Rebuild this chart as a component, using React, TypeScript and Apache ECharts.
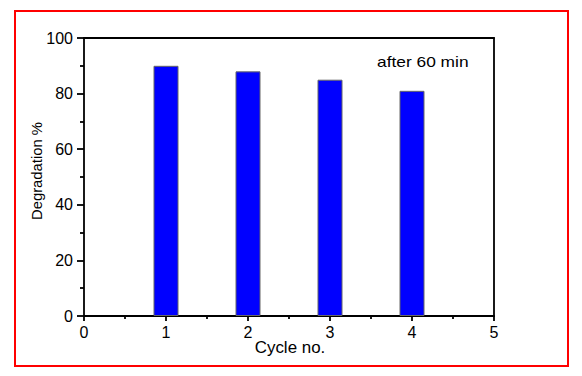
import React, { useEffect, useRef } from "react";
import * as echarts from "echarts";

const cycles = [1, 2, 3, 4];
const degradation = [90, 88, 85, 81];
const xTicks = [0, 1, 2, 3, 4, 5];
const yTicks = [0, 20, 40, 60, 80, 100];

export default function App() {
  const ref = useRef<HTMLDivElement>(null);
  useEffect(() => {
    document.body.style.margin = "0";
    const chart = echarts.init(ref.current!, null, { renderer: "svg" });
    const font = "Liberation Sans, Arial, sans-serif";
    const line = { color: "#000", width: 1.8 };
    chart.setOption({
      animation: false,
      backgroundColor: "#fff",
      grid: { left: 84, top: 38, right: 88, bottom: 60, containLabel: false },
      xAxis: [
        {
          type: "value",
          min: xTicks[0],
          max: xTicks[xTicks.length - 1],
          interval: 1,
          axisLine: { show: true, onZero: false, lineStyle: line },
          axisTick: { show: true, inside: false, length: 5, lineStyle: line },
          minorTick: { show: true, splitNumber: 2, length: 3, lineStyle: line },
          splitLine: { show: false },
          axisLabel: { color: "#000", fontSize: 16, fontFamily: font, margin: 8 },
        },
        {
          type: "value",
          position: "top",
          min: 0,
          max: 5,
          axisLine: { show: true, onZero: false, lineStyle: line },
          axisTick: { show: false },
          axisLabel: { show: false },
          splitLine: { show: false },
        },
      ],
      yAxis: [
        {
          type: "value",
          min: yTicks[0],
          max: yTicks[yTicks.length - 1],
          interval: 20,
          axisLine: { show: true, onZero: false, lineStyle: line },
          axisTick: { show: true, inside: false, length: 7, lineStyle: line },
          minorTick: { show: true, splitNumber: 2, length: 4, lineStyle: line },
          splitLine: { show: false },
          axisLabel: { color: "#000", fontSize: 16, fontFamily: font, margin: 11 },
        },
        {
          type: "value",
          position: "right",
          min: 0,
          max: 100,
          axisLine: { show: true, onZero: false, lineStyle: line },
          axisTick: { show: false },
          axisLabel: { show: false },
          splitLine: { show: false },
        },
      ],
      series: [
        {
          type: "bar",
          xAxisIndex: 0,
          yAxisIndex: 0,
          barWidth: 25,
          data: cycles.map((c, i) => [c, degradation[i]]),
          itemStyle: { color: "#0000ff", borderColor: "#666", borderWidth: 1 },
        },
      ],
      graphic: [
        {
          type: "rect",
          shape: { x: 15, y: 11, width: 553, height: 355 },
          style: { fill: "none", stroke: "#ff0000", lineWidth: 2 },
        },
        {
          type: "text",
          x: 37,
          y: 171,
          rotation: Math.PI / 2,
          scaleX: 1.06,
          style: {
            text: "Degradation %",
            fill: "#000",
            font: `14px ${font}`,
            align: "center",
            verticalAlign: "middle",
          },
        },
        {
          type: "text",
          x: 290,
          y: 347,
          scaleX: 1.06,
          style: {
            text: "Cycle no.",
            fill: "#000",
            font: `16px ${font}`,
            align: "center",
            verticalAlign: "middle",
          },
        },
        {
          type: "text",
          x: 377,
          y: 62,
          scaleX: 1.24,
          style: {
            text: "after 60 min",
            fill: "#000",
            font: `14px ${font}`,
            align: "left",
            verticalAlign: "middle",
          },
        },
      ],
    });
    return () => chart.dispose();
  }, []);
  return <div ref={ref} style={{ width: 582, height: 376 }} />;
}
